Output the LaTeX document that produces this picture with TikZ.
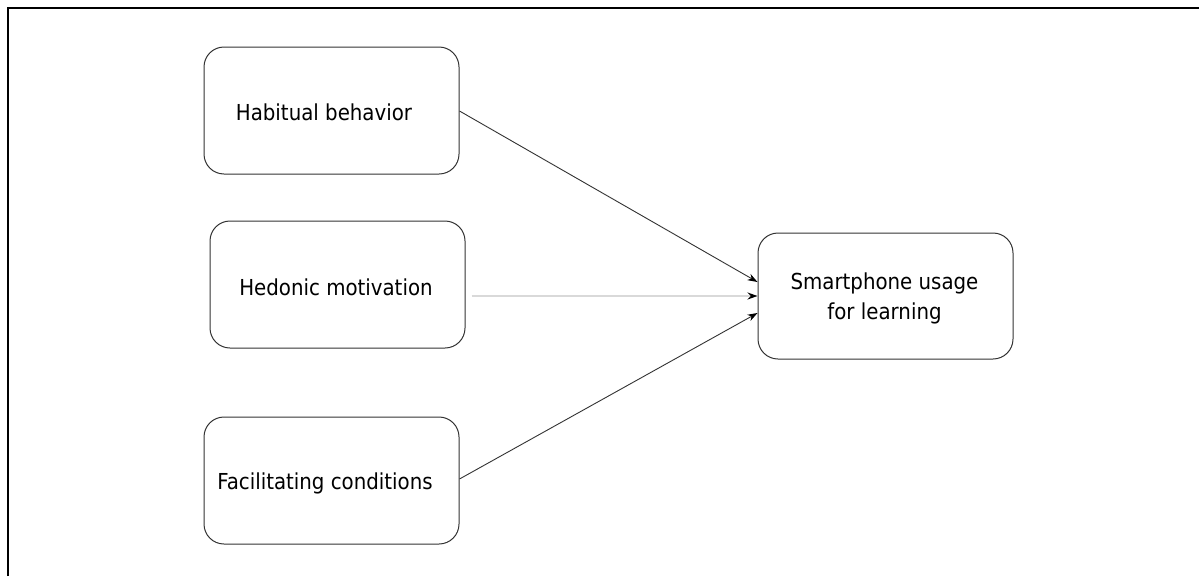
\documentclass[tikz,border=0pt]{standalone}
\usepackage{fontspec}
\setmainfont{DejaVu Sans Condensed}
\usetikzlibrary{arrows.meta}
\definecolor{boxline}{HTML}{333333}
\definecolor{arrline}{HTML}{333333}
\definecolor{lightline}{HTML}{D9D9D9}
\begin{document}
\begin{tikzpicture}[x=1pt,y=-1pt,
  box/.style={draw=boxline,line width=1pt,rounded corners=20pt,inner sep=0pt,
    minimum width=255pt,minimum height=127pt},
  lbl/.style={font=\fontsize{22}{30}\selectfont,align=center,inner sep=0pt},
  conn/.style={draw=arrline,line width=0.9pt,-{Stealth[length=10pt,width=7pt,black]}},
  lconn/.style={draw=lightline,line width=1.6pt,-{Stealth[length=10pt,width=7pt,black]}}]
\useasboundingbox (0,0) rectangle (1199,576);
\fill[white] (0,0) rectangle (1199,576);
% outer frame (cropped)
\draw[line width=2.2pt,black] (8,576) -- (8,8) -- (1199,8);
% boxes
\node[box] (hab) at (331.5,110.5) {};
\node[lbl] (habt) at (324,112) {Habitual behavior};
\node[box] (hed) at (337.5,284.5) {};
\node[lbl] (hedt) at (336,287) {Hedonic motivation};
\node[box] (fac) at (331.5,480.5) {};
\node[lbl] (fact) at (325,483) {Facilitating conditions};
\node[box,minimum height=126pt] (sm) at (885.5,296) {};
\node[lbl] (smt) at (884.5,298) {Smartphone usage\\for learning};
% connectors
\coordinate (habout) at (hab.east |- 0,111);
\coordinate (smin1) at (sm.west |- 0,282);
\coordinate (hedout) at ([xshift=6pt]hed.east |- 0,296);
\coordinate (smin2) at (sm.west |- 0,296);
\coordinate (facout) at (fac.east |- 0,479);
\coordinate (smin3) at (sm.west |- 0,313);
\draw[conn] (habout) -- (smin1);
\draw[lconn] (hedout) -- (smin2);
\draw[conn] (facout) -- (smin3);
\end{tikzpicture}
\end{document}
